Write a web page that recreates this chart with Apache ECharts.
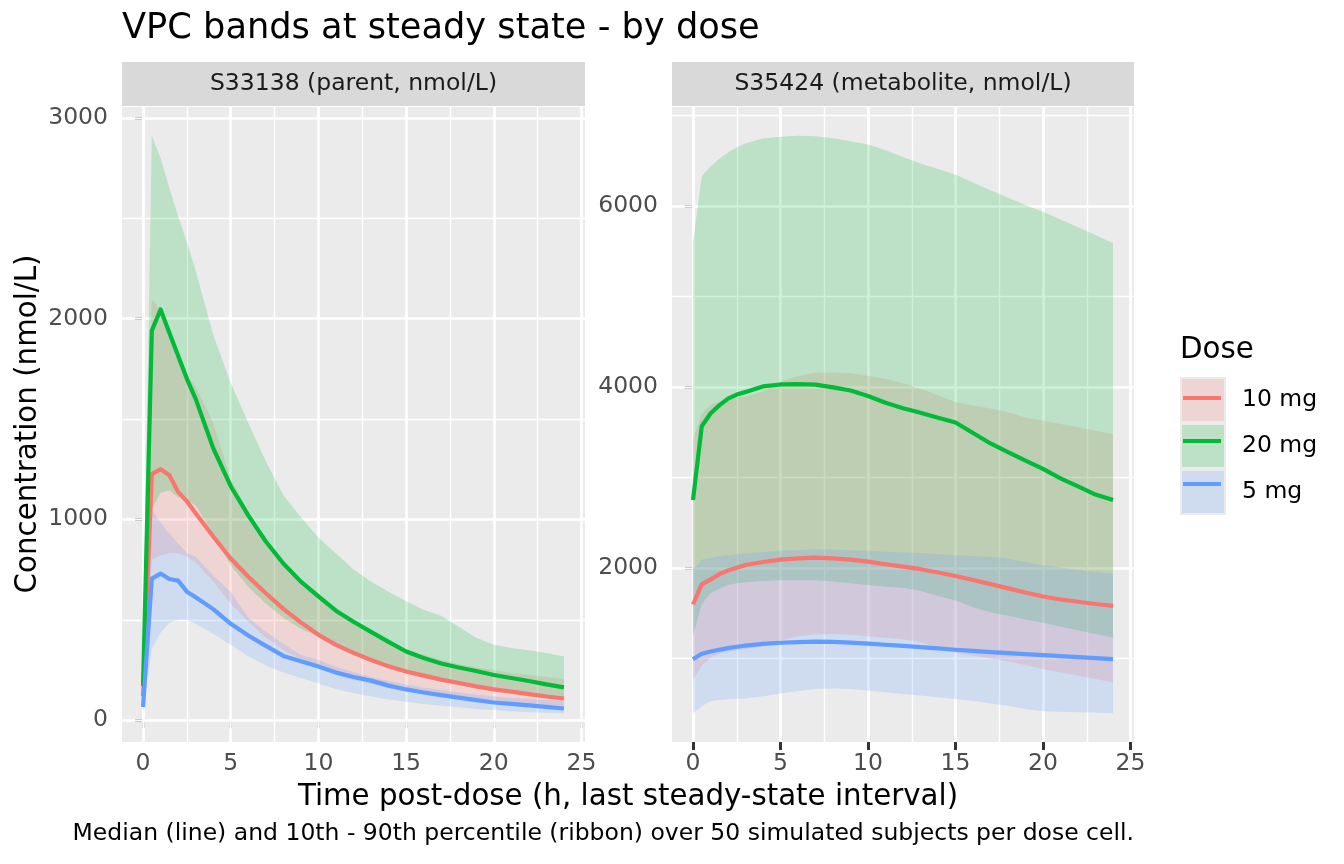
<!DOCTYPE html>
<html>
<head>
<meta charset="utf-8">
<title>VPC bands at steady state - by dose</title>
<script src="https://cdn.jsdelivr.net/npm/echarts@6/dist/echarts.min.js"></script>
<style>
  html, body { margin: 0; padding: 0; background: #ffffff; }
  #chart { width: 1344px; height: 864px; }
</style>
</head>
<body>
<div id="chart"></div>
<script>
// time after dose (h)
const hours = [0, 0.5, 1, 1.5, 2, 2.5, 3, 4, 5, 6, 7, 8, 9, 10, 11, 12, 13, 14, 15, 16, 17, 18, 19, 20, 21, 22, 23, 24];

const doses = ['10 mg', '20 mg', '5 mg'];
const doseColors = ['#F8766D', '#00BA38', '#619CFF'];

// S33138 (parent) - median / 10th / 90th percentile
const parent10Med = [120, 1225, 1250, 1220, 1137, 1090, 1030, 915, 805, 714, 632, 554, 487, 425, 375, 335, 300, 268, 242, 222, 202, 185, 168, 153, 142, 130, 118, 108];
const parent10Lo = [70, 800, 820, 833, 830, 815, 785, 690, 580, 490, 412, 350, 305, 267, 225, 200, 180, 160, 145, 130, 118, 108, 100, 92, 86, 80, 75, 70];
const parent10Hi = [205, 2095, 2045, 1930, 1820, 1713, 1663, 1480, 1200, 1040, 900, 790, 700, 625, 555, 490, 440, 395, 355, 325, 300, 280, 262, 248, 235, 225, 215, 205];
const parent20Med = [170, 1940, 2045, 1930, 1815, 1700, 1600, 1355, 1165, 1020, 890, 780, 690, 617, 545, 490, 440, 390, 342, 310, 282, 262, 245, 225, 210, 195, 178, 163];
const parent20Lo = [112, 1050, 1133, 1145, 1110, 1095, 1070, 923, 770, 665, 580, 510, 455, 417, 375, 340, 310, 275, 248, 225, 205, 190, 175, 160, 148, 135, 122, 112];
const parent20Hi = [320, 2910, 2800, 2650, 2510, 2380, 2240, 1920, 1680, 1480, 1290, 1120, 1010, 910, 830, 750, 690, 640, 592, 550, 520, 465, 410, 375, 360, 348, 335, 317];
const parent5Med = [65, 705, 730, 703, 695, 640, 612, 553, 480, 422, 370, 320, 293, 267, 237, 215, 197, 172, 153, 138, 125, 112, 100, 88, 81, 74, 66, 58];
const parent5Lo = [35, 355, 435, 485, 500, 500, 480, 430, 375, 318, 272, 238, 210, 183, 155, 135, 118, 103, 92, 81, 72, 64, 56, 50, 45, 40, 37, 35];
const parent5Hi = [95, 1045, 985, 930, 880, 833, 815, 720, 640, 510, 440, 380, 325, 300, 265, 240, 215, 195, 178, 163, 150, 138, 128, 118, 111, 105, 100, 95];

// S35424 (metabolite) - median / 10th / 90th percentile
const metab10Med = [1595, 1820, 1870, 1930, 1970, 2000, 2032, 2065, 2090, 2105, 2112, 2105, 2090, 2068, 2040, 2013, 1985, 1948, 1910, 1865, 1820, 1773, 1728, 1683, 1650, 1625, 1600, 1580];
const metab10Lo = [756, 920, 1010, 1050, 1075, 1090, 1100, 1140, 1200, 1240, 1265, 1270, 1260, 1245, 1228, 1212, 1180, 1110, 1060, 1030, 1000, 965, 925, 880, 845, 810, 770, 733];
const metab10Hi = [3430, 3700, 3800, 3840, 3865, 3880, 3890, 3950, 4060, 4120, 4158, 4160, 4150, 4120, 4090, 4040, 3980, 3905, 3833, 3795, 3760, 3720, 3661, 3625, 3590, 3555, 3515, 3480];
const metab20Med = [2750, 3565, 3706, 3796, 3870, 3915, 3945, 4005, 4027, 4030, 4025, 3995, 3960, 3900, 3825, 3765, 3715, 3660, 3606, 3490, 3375, 3280, 3185, 3095, 2990, 2900, 2810, 2750];
const metab20Lo = [1250, 1600, 1720, 1770, 1810, 1830, 1842, 1855, 1862, 1864, 1864, 1850, 1830, 1810, 1790, 1780, 1745, 1690, 1638, 1565, 1510, 1470, 1430, 1392, 1350, 1310, 1270, 1231];
const metab20Hi = [5600, 6325, 6440, 6520, 6590, 6650, 6690, 6745, 6765, 6775, 6772, 6750, 6715, 6680, 6615, 6540, 6470, 6410, 6344, 6260, 6175, 6090, 6010, 5937, 5850, 5765, 5680, 5588];
const metab5Med = [990, 1050, 1075, 1095, 1112, 1128, 1140, 1160, 1172, 1180, 1185, 1182, 1173, 1163, 1150, 1137, 1124, 1110, 1095, 1082, 1069, 1058, 1047, 1036, 1025, 1014, 1002, 991];
const metab5Lo = [394, 470, 529, 540, 548, 552, 555, 580, 610, 640, 660, 665, 660, 645, 625, 605, 590, 570, 550, 530, 500, 475, 440, 416, 410, 405, 400, 394];
const metab5Hi = [1977, 2090, 2110, 2125, 2140, 2150, 2158, 2175, 2188, 2198, 2204, 2202, 2195, 2188, 2178, 2170, 2163, 2150, 2140, 2130, 2120, 2100, 2065, 2030, 2005, 1980, 1955, 1932];

// tick labels
const xMajor = [0, 5, 10, 15, 20, 25];
const xMinor = [2.5, 7.5, 12.5, 17.5, 22.5];
const parentYMajor = [0, 1000, 2000, 3000];
const parentYMinor = [500, 1500, 2500];
const metabYMajor = [2000, 4000, 6000];
const metabYMinor = [1000, 3000, 5000, 7000];

const FONT = 'DejaVu Sans';
const GRID_TOP = 107;
const GRID_H = 635;
const STRIP_H = 44;
const boxes = [{ left: 122, width: 463 }, { left: 672, width: 462 }];

function hexRgb(hex) {
  return [1, 3, 5].map((i) => parseInt(hex.substr(i, 2), 16));
}
function rgba(hex, a) {
  const c = hexRgb(hex);
  return 'rgba(' + c[0] + ',' + c[1] + ',' + c[2] + ',' + a + ')';
}
// ribbon colour seen over the grey key background
function keyFill(hex) {
  const c = hexRgb(hex).map((v) => Math.round(235 * 0.8 + v * 0.2));
  return 'rgb(' + c.join(',') + ')';
}
// ggplot style 5% expansion
function padRange(arrs) {
  let lo = Infinity, hi = -Infinity;
  arrs.forEach((a) => a.forEach((v) => { lo = Math.min(lo, v); hi = Math.max(hi, v); }));
  const r = hi - lo;
  return [lo - 0.05 * r, hi + 0.05 * r];
}

const panels = [
  {
    strip: 'S33138 (parent, nmol/L)',
    yMajor: parentYMajor, yMinor: parentYMinor,
    lo: [parent10Lo, parent20Lo, parent5Lo],
    med: [parent10Med, parent20Med, parent5Med],
    hi: [parent10Hi, parent20Hi, parent5Hi]
  },
  {
    strip: 'S35424 (metabolite, nmol/L)',
    yMajor: metabYMajor, yMinor: metabYMinor,
    lo: [metab10Lo, metab20Lo, metab5Lo],
    med: [metab10Med, metab20Med, metab5Med],
    hi: [metab10Hi, metab20Hi, metab5Hi]
  }
];

const xRange = padRange([hours]);
const grid = [], xAxis = [], yAxis = [], series = [], graphic = [];

const tickStyle = { show: true, length: 8, inside: false, lineStyle: { color: '#333333', width: 3, opacity: 1 } };
const labelStyle = { color: '#4D4D4D', fontSize: 23.5, fontFamily: FONT, formatter: (v) => String(v) };
const hiddenLine = { show: false, lineStyle: { color: '#333333' } };

// one polygon per ribbon, corners mapped through the axes
function ribbon(pi, di, lo, hi) {
  return {
    type: 'custom', name: doses[di], xAxisIndex: pi, yAxisIndex: pi,
    silent: true, z: 2, clip: true,
    itemStyle: { color: doseColors[di] },
    data: hours.map((t, k) => [t, lo[k], hi[k]]),
    encode: { x: 0, y: [1, 2] },
    renderItem: (params, api) => {
      if (params.dataIndex !== 0) return null;
      const upper = hours.map((t, k) => api.coord([t, hi[k]]));
      const lower = hours.map((t, k) => api.coord([t, lo[k]])).reverse();
      return {
        type: 'polygon',
        shape: { points: upper.concat(lower) },
        style: { fill: rgba(doseColors[di], 0.2), stroke: null }
      };
    }
  };
}

panels.forEach((p, pi) => {
  const box = boxes[pi];
  grid.push({
    left: box.left, top: GRID_TOP, width: box.width, height: GRID_H,
    show: true, backgroundColor: '#EBEBEB', borderWidth: 0
  });
  const yRange = padRange([].concat(p.lo, p.med, p.hi));

  xAxis.push({
    type: 'value', gridIndex: pi, min: xRange[0], max: xRange[1],
    axisLine: hiddenLine,
    splitLine: { show: false },
    axisTick: Object.assign({ customValues: xMajor }, tickStyle),
    axisLabel: Object.assign({ customValues: xMajor, margin: 10 }, labelStyle)
  });
  yAxis.push({
    type: 'value', gridIndex: pi, min: yRange[0], max: yRange[1],
    axisLine: hiddenLine,
    splitLine: { show: false },
    axisTick: Object.assign({ customValues: p.yMajor }, tickStyle),
    axisLabel: Object.assign({ customValues: p.yMajor, margin: 14 }, labelStyle)
  });

  const gridLines = []
    .concat(xMinor.map((v) => ({ xAxis: v, lineStyle: { width: 1.4 } })))
    .concat(p.yMinor.map((v) => ({ yAxis: v, lineStyle: { width: 1.4 } })))
    .concat(xMajor.map((v) => ({ xAxis: v, lineStyle: { width: 2.7 } })))
    .concat(p.yMajor.map((v) => ({ yAxis: v, lineStyle: { width: 2.7 } })));

  doses.forEach((d, di) => {
    const s = ribbon(pi, di, p.lo[di], p.hi[di]);
    if (di === 0) {
      s.markLine = {
        silent: true, z: 1, animation: false,
        symbol: ['none', 'none'],
        label: { show: false },
        emphasis: { disabled: true },
        lineStyle: { color: '#ffffff', type: 'solid' },
        data: gridLines
      };
    }
    series.push(s);
  });

  // medians
  doses.forEach((d, di) => {
    series.push({
      type: 'line', name: d + ' median', xAxisIndex: pi, yAxisIndex: pi,
      data: hours.map((t, k) => [t, p.med[di][k]]),
      symbol: 'none', silent: true, z: 3,
      itemStyle: { color: doseColors[di] },
      lineStyle: { color: doseColors[di], width: 4.2, join: 'round' }
    });
  });

  // facet strip
  graphic.push({
    type: 'rect', silent: true,
    shape: { x: box.left, y: GRID_TOP - STRIP_H - 1, width: box.width, height: STRIP_H },
    style: { fill: '#D9D9D9' }
  });
  graphic.push({
    type: 'text', silent: true,
    x: box.left + box.width / 2, y: GRID_TOP - STRIP_H / 2 - 1,
    style: { text: p.strip, fill: '#1A1A1A', font: '23.5px "' + FONT + '"', align: 'center', verticalAlign: 'middle' }
  });
});

// titles and captions
graphic.push({
  type: 'text', silent: true, x: 122, y: 29,
  style: { text: 'VPC bands at steady state - by dose', fill: '#000000', font: '35.2px "' + FONT + '"', align: 'left', verticalAlign: 'middle' }
});
graphic.push({
  type: 'text', silent: true, x: 628, y: 797,
  style: { text: 'Time post-dose (h, last steady-state interval)', fill: '#000000', font: '29.3px "' + FONT + '"', align: 'center', verticalAlign: 'middle' }
});
graphic.push({
  type: 'text', silent: true, x: 28, y: 424, rotation: Math.PI / 2,
  style: { text: 'Concentration (nmol/L)', fill: '#000000', font: '29.3px "' + FONT + '"', align: 'center', verticalAlign: 'middle' }
});
graphic.push({
  type: 'text', silent: true, x: 1134, y: 834,
  style: { text: 'Median (line) and 10th - 90th percentile (ribbon) over 50 simulated subjects per dose cell.', fill: '#000000', font: '23.5px "' + FONT + '"', align: 'right', verticalAlign: 'middle' }
});
graphic.push({
  type: 'text', silent: true, x: 1180, y: 350,
  style: { text: 'Dose', fill: '#000000', font: '29.3px "' + FONT + '"', align: 'left', verticalAlign: 'middle' }
});

const legend = [
  {
    orient: 'vertical', left: 1180, top: 377, padding: 0, itemWidth: 44, itemHeight: 44, itemGap: 0,
    icon: 'rect', selectedMode: false,
    data: doses.map((d, i) => ({
      name: d,
      itemStyle: { color: keyFill(doseColors[i]), borderColor: '#EBEBEB', borderWidth: 2, opacity: 1 }
    })),
    textStyle: { fontSize: 23.5, fontFamily: FONT, color: '#000000', padding: [0, 0, 0, 12] }
  },
  {
    orient: 'vertical', left: 1183, top: 396, padding: 0, itemWidth: 38, itemHeight: 4, itemGap: 39,
    icon: 'rect', selectedMode: false,
    data: doses.map((d, i) => ({ name: d + ' median', itemStyle: { color: doseColors[i], borderWidth: 0 } })),
    formatter: () => '',
    textStyle: { fontSize: 1, lineHeight: 1 }
  }
];

const chart = echarts.init(document.getElementById('chart'), null, { renderer: 'canvas' });
chart.setOption({
  animation: false,
  backgroundColor: '#ffffff',
  grid: grid,
  xAxis: xAxis,
  yAxis: yAxis,
  legend: legend,
  graphic: graphic,
  series: series
});
</script>
</body>
</html>
